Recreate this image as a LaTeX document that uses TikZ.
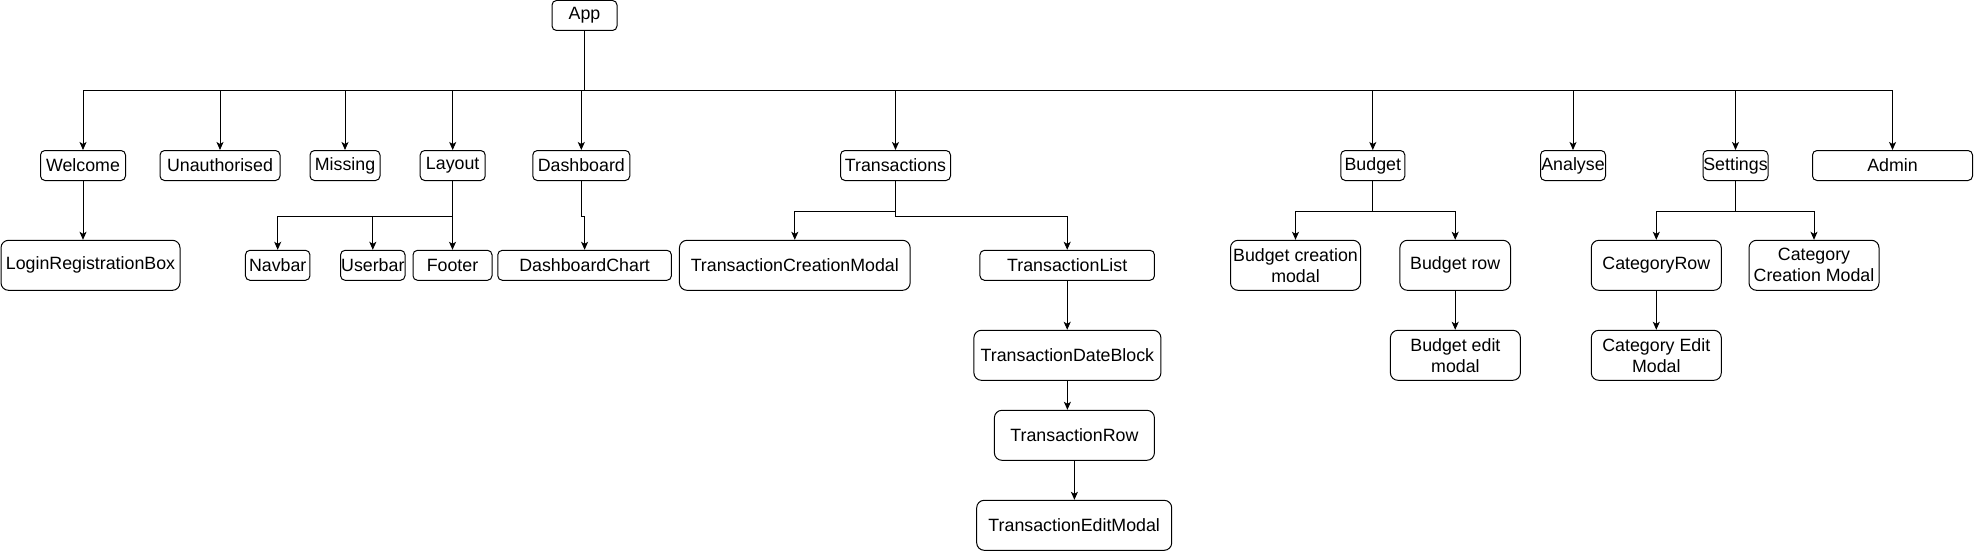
\documentclass[tikz,border=0pt]{standalone}
\usepackage{fontspec}
\setmainfont{Liberation Sans}
\usetikzlibrary{arrows.meta}
\newcommand\mkbox[6]{\node[box, minimum width=#4pt, minimum height=#5pt, rounded corners=0.15*#5pt] (#1) at (#2,-#3) {#6};}
\begin{document}
\begin{tikzpicture}[x=1pt,y=1pt,
  box/.style={draw, line width=1pt, inner sep=0pt, align=center, font=\fontsize{17.8}{21}\selectfont},
  arr/.style={draw, line width=1pt, -{Stealth[length=8pt,width=7pt,inset=2pt]}},
]
\useasboundingbox (0,0) rectangle (1974,-551);
% level 0
\mkbox{app}{584.5}{15.5}{65}{30}{App}
% level 1
\mkbox{welcome}{83}{165.5}{85}{30}{Welcome}
\mkbox{unauth}{220}{165.5}{120}{30}{Unauthorised}
\mkbox{missing}{345}{165.5}{70}{30}{Missing}
\mkbox{layout}{452.7}{165.5}{65}{30}{Layout}
\mkbox{dash}{581.3}{165.5}{97}{30}{Dashboard}
\mkbox{trans}{895.5}{165.5}{110}{30}{Transactions}
\mkbox{budget}{1372.8}{165.5}{64}{30}{Budget}
\mkbox{analyse}{1573}{165.5}{65}{30}{Analyse}
\mkbox{settings}{1735.5}{165.5}{65}{30}{Settings}
\mkbox{admin}{1892.5}{165.5}{160}{30}{Admin}
% level 2
\mkbox{login}{90.5}{265.3}{179}{50}{LoginRegistrationBox}
\mkbox{navbar}{277.7}{265.3}{64.5}{30}{Navbar}
\mkbox{userbar}{372.8}{265.3}{64.4}{30}{Userbar}
\mkbox{footer}{452.5}{265.3}{79}{30}{Footer}
\mkbox{dchart}{584.6}{265.3}{173.6}{30}{DashboardChart}
\mkbox{tcm}{794.8}{265.3}{230.7}{50}{TransactionCreationModal}
\mkbox{tlist}{1067.2}{265.3}{174.5}{30}{TransactionList}
\mkbox{bcm}{1295.5}{265.3}{130}{50}{Budget creation\\modal}
\mkbox{brow}{1455.2}{265.3}{110.6}{50}{Budget row}
\mkbox{crow}{1656.3}{265.3}{130}{50}{CategoryRow}
\mkbox{ccm}{1814}{265.3}{130}{50}{Category\\Creation Modal}
% level 3+
\mkbox{tdb}{1067.4}{355.3}{187}{50}{TransactionDateBlock}
\mkbox{bem}{1455.4}{355.3}{130}{50}{Budget edit\\modal}
\mkbox{cem}{1656.3}{355.3}{130}{50}{Category Edit\\Modal}
\mkbox{trow}{1074.4}{435.3}{160}{50}{TransactionRow}
\mkbox{tem}{1074.2}{525.3}{195}{50}{TransactionEditModal}
% connectors
\foreach \c in {welcome,unauth,missing,layout,dash,trans,budget,analyse,settings,admin}
  \draw[arr] (app.south) -- ++(0,-59.5) -| (\c.north);
\foreach \c in {navbar,userbar,footer}
  \draw[arr] (layout.south) -- ++(0,-35) -| (\c.north);
\draw[arr] (dash.south) -- ++(0,-35) -| (dchart.north);
\draw[arr] (trans.south) -- ++(0,-30) -| (tcm.north);
\draw[arr] (trans.south) -- ++(0,-35) -| (tlist.north);
\draw[arr] (budget.south) -- ++(0,-30) -| (bcm.north);
\draw[arr] (budget.south) -- ++(0,-30) -| (brow.north);
\draw[arr] (settings.south) -- ++(0,-30) -| (crow.north);
\draw[arr] (settings.south) -- ++(0,-30) -| (ccm.north);
\draw[arr] (welcome.south) -- (welcome.south |- login.north);
\draw[arr] (tlist.south) -- (tlist.south |- tdb.north);
\draw[arr] (tdb.south) -- (tdb.south |- trow.north);
\draw[arr] (trow.south) -- (trow.south |- tem.north);
\draw[arr] (brow.south) -- (brow.south |- bem.north);
\draw[arr] (crow.south) -- (crow.south |- cem.north);
\end{tikzpicture}
\end{document}
